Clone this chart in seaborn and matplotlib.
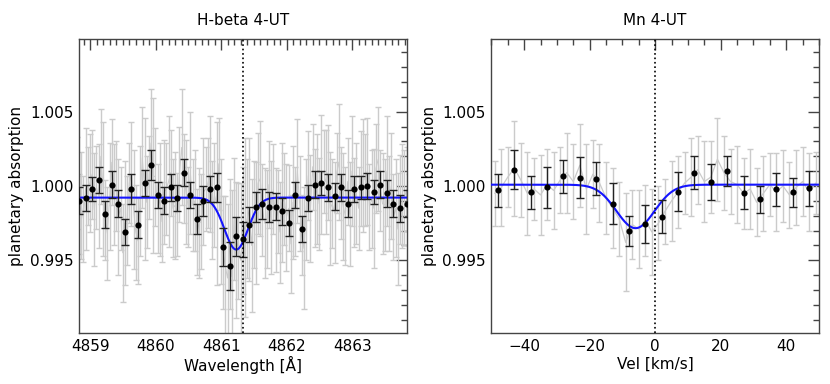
"""
Planetary absorption around H-beta and Mn (4-UT)
"""
import numpy as np
import matplotlib
matplotlib.use("Agg")
import matplotlib.pyplot as plt
import seaborn as sns
from matplotlib.ticker import MultipleLocator, FormatStrFormatter

# ---- H-beta panel: binned points (0.1 A bins) ----
hb_wave = [4858.83, 4858.93, 4859.03, 4859.13, 4859.23, 4859.33, 4859.43, 4859.53, 4859.63, 4859.73,
           4859.83, 4859.93, 4860.03, 4860.13, 4860.23, 4860.33, 4860.43, 4860.53, 4860.63, 4860.73,
           4860.83, 4860.93, 4861.03, 4861.13, 4861.23, 4861.33, 4861.43, 4861.53, 4861.63, 4861.73,
           4861.83, 4861.93, 4862.03, 4862.13, 4862.23, 4862.33, 4862.43, 4862.53, 4862.63, 4862.73,
           4862.83, 4862.93, 4863.03, 4863.13, 4863.23, 4863.33, 4863.43, 4863.53, 4863.63, 4863.73,
           4863.83]
hb_flux = [0.9990, 0.9992, 0.9998, 1.0004, 0.9981, 1.0001, 0.9988, 0.9969, 0.9998, 0.9974,
           1.0002, 1.0014, 0.9994, 0.9990, 0.9999, 0.9992, 1.0009, 0.9994, 0.9978, 0.9990,
           0.9998, 0.9999, 0.9959, 0.9946, 0.9966, 0.9964, 0.9974, 0.9986, 0.9988, 0.9986,
           0.9986, 0.9983, 0.9975, 0.9994, 0.9971, 0.9992, 1.0001, 1.0002, 0.9999, 0.9993,
           0.9999, 0.9988, 0.9998, 0.9999, 1.0000, 0.9996, 1.0001, 0.9995, 0.9988, 0.9985,
           0.9988]
hb_err = [0.0009, 0.0009, 0.0008, 0.0009, 0.0009, 0.0009, 0.0009, 0.0009, 0.0010, 0.0009,
          0.0009, 0.0010, 0.0009, 0.0009, 0.0009, 0.0009, 0.0009, 0.0009, 0.0010, 0.0010,
          0.0009, 0.0010, 0.0013, 0.0016, 0.0013, 0.0012, 0.0012, 0.0010, 0.0010, 0.0010,
          0.0009, 0.0009, 0.0009, 0.0009, 0.0009, 0.0009, 0.0009, 0.0008, 0.0009, 0.0009,
          0.0009, 0.0009, 0.0009, 0.0008, 0.0009, 0.0008, 0.0009, 0.0009, 0.0009, 0.0009,
          0.0009]

# unbinned pixels, three per bin
hb_pix_flux = [1.0002, 0.9981, 0.9987, 0.9978, 0.9998, 1.0000, 1.0002, 1.0008, 0.9984,
               0.9999, 0.9993, 1.0020, 0.9998, 0.9977, 0.9968, 0.9993, 1.0016, 0.9994,
               1.0000, 0.9979, 0.9985, 0.9955, 0.9975, 0.9977, 1.0002, 1.0008, 0.9984,
               0.9969, 0.9963, 0.9990, 1.0019, 0.9998, 0.9989, 1.0006, 1.0029, 1.0007,
               1.0006, 0.9985, 0.9991, 0.9976, 0.9996, 0.9998, 1.0003, 1.0009, 0.9985,
               0.9987, 0.9981, 1.0008, 1.0026, 1.0005, 0.9996, 0.9986, 1.0009, 0.9987,
               0.9990, 0.9969, 0.9975, 0.9976, 0.9996, 0.9998, 1.0002, 1.0008, 0.9984,
               0.9994, 0.9988, 1.0015, 0.9976, 0.9955, 0.9946, 0.9938, 0.9961, 0.9939,
               0.9978, 0.9957, 0.9963, 0.9950, 0.9970, 0.9972, 0.9978, 0.9984, 0.9960,
               0.9981, 0.9975, 1.0002, 1.0005, 0.9984, 0.9975, 0.9978, 1.0001, 0.9979,
               0.9998, 0.9977, 0.9983, 0.9969, 0.9989, 0.9991, 0.9979, 0.9985, 0.9961,
               0.9989, 0.9983, 1.0010, 0.9988, 0.9967, 0.9958, 0.9984, 1.0007, 0.9985,
               1.0013, 0.9992, 0.9998, 0.9988, 1.0008, 1.0010, 1.0003, 1.0009, 0.9985,
               0.9988, 0.9982, 1.0009, 1.0016, 0.9995, 0.9986, 0.9980, 1.0003, 0.9981,
               1.0010, 0.9989, 0.9995, 0.9985, 1.0005, 1.0007, 1.0004, 1.0010, 0.9986,
               0.9991, 0.9985, 1.0012, 1.0018, 0.9997, 0.9988, 0.9987, 1.0010, 0.9988,
               1.0000, 0.9979, 0.9985, 0.9971, 0.9991, 0.9993, 0.9992, 0.9998, 0.9974]
hb_pix_err = [0.0031, 0.0027, 0.0036, 0.0029, 0.0041, 0.0026, 0.0033, 0.0030, 0.0038,
              0.0028, 0.0035, 0.0032, 0.0045, 0.0027, 0.0031, 0.0036, 0.0029, 0.0034,
              0.0030, 0.0039, 0.0028, 0.0033, 0.0042, 0.0030, 0.0027, 0.0035, 0.0040,
              0.0032, 0.0029, 0.0037, 0.0034, 0.0048, 0.0031, 0.0028, 0.0036, 0.0052,
              0.0033, 0.0030, 0.0038, 0.0027, 0.0035, 0.0031, 0.0044, 0.0029, 0.0033,
              0.0036, 0.0028, 0.0032, 0.0039, 0.0030, 0.0035, 0.0027, 0.0041, 0.0031,
              0.0034, 0.0029, 0.0037, 0.0032, 0.0036, 0.0028, 0.0030, 0.0039, 0.0033,
              0.0035, 0.0055, 0.0031, 0.0042, 0.0038, 0.0047, 0.0050, 0.0044, 0.0058,
              0.0041, 0.0046, 0.0039, 0.0052, 0.0043, 0.0060, 0.0040, 0.0048, 0.0045,
              0.0036, 0.0041, 0.0034, 0.0039, 0.0031, 0.0037, 0.0033, 0.0029, 0.0038,
              0.0030, 0.0035, 0.0028, 0.0034, 0.0040, 0.0031, 0.0036, 0.0029, 0.0033,
              0.0038, 0.0030, 0.0035, 0.0032, 0.0027, 0.0041, 0.0034, 0.0030, 0.0036,
              0.0029, 0.0033, 0.0037, 0.0031, 0.0040, 0.0028, 0.0035, 0.0032, 0.0038,
              0.0030, 0.0034, 0.0027, 0.0039, 0.0031, 0.0036, 0.0033, 0.0029, 0.0035,
              0.0037, 0.0030, 0.0034, 0.0028, 0.0032, 0.0038, 0.0031, 0.0036, 0.0029,
              0.0033, 0.0040, 0.0030, 0.0035, 0.0027, 0.0034, 0.0031, 0.0037, 0.0032,
              0.0036, 0.0029, 0.0033, 0.0038, 0.0030, 0.0035, 0.0032, 0.0028, 0.0034]

# gaussian fit, H-beta
HB_CONT, HB_DEPTH, HB_CENTER, HB_SIGMA = 0.99922, 0.00350, 4861.23, 0.18
HB_REST = 4861.33

# ---- Mn panel: binned points (5 km/s bins) ----
mn_vel = [-48, -43, -38, -33, -28, -23, -18, -13, -8, -3,
          2, 7, 12, 17, 22, 27, 32, 37, 42, 47]
mn_flux = [0.99971, 1.00110, 0.99957, 0.99991, 1.00065, 1.00056, 1.00050, 0.99881, 0.99698, 0.99745,
           0.99793, 0.99962, 1.00090, 1.00025, 1.00101, 0.99955, 0.99910, 0.99977, 0.99957, 0.99984]
mn_err = [0.0011, 0.0013, 0.0011, 0.0014, 0.0011, 0.0014, 0.0011, 0.0014, 0.0010, 0.0013,
          0.0011, 0.0013, 0.0011, 0.0012, 0.0010, 0.0011, 0.0009, 0.0011, 0.0010, 0.0012]

mn_pix_vel = [-49, -47, -45, -43, -41, -39, -37, -35, -33, -31,
              -29, -27, -25, -23, -21, -19, -17, -15, -13, -11,
              -9, -7, -5, -3, -1, 1, 3, 5, 7, 9,
              11, 13, 15, 17, 19, 21, 23, 25, 27, 29,
              31, 33, 35, 37, 39, 41, 43, 45, 47, 49]
mn_pix_flux = [0.9995, 0.9999, 1.0006, 1.0012, 1.0004, 0.9995, 0.9998, 0.9994, 1.0001, 0.9997,
               1.0004, 1.0009, 1.0003, 1.0014, 0.9998, 1.0008, 1.0002, 0.9992, 0.9985, 0.9978,
               0.9962, 0.9974, 0.9971, 0.9977, 0.9969, 0.9975, 0.9983, 0.9990, 0.9996, 1.0002,
               1.0006, 1.0011, 1.0003, 1.0006, 1.0018, 1.0009, 1.0003, 1.0001, 0.9995, 0.9998,
               0.9989, 0.9995, 1.0001, 0.9996, 1.0000, 0.9994, 0.9999, 1.0003, 0.9996, 1.0002]
mn_pix_err = [0.0022, 0.0026, 0.0020, 0.0032, 0.0025, 0.0028, 0.0021, 0.0027, 0.0024, 0.0026,
              0.0022, 0.0027, 0.0025, 0.0028, 0.0030, 0.0023, 0.0026, 0.0024, 0.0027, 0.0025,
              0.0033, 0.0023, 0.0026, 0.0024, 0.0029, 0.0025, 0.0022, 0.0027, 0.0024, 0.0021,
              0.0026, 0.0023, 0.0027, 0.0024, 0.0028, 0.0025, 0.0022, 0.0026, 0.0024, 0.0027,
              0.0023, 0.0025, 0.0021, 0.0026, 0.0024, 0.0022, 0.0025, 0.0023, 0.0026, 0.0021]

MN_CONT, MN_DEPTH, MN_CENTER, MN_SIGMA = 1.00009, 0.00293, -6.0, 5.8

GRAY = "#cbcbcb"
BLUE = "#1414ff"

sns.set_style("white")
plt.rcParams.update({
    "font.size": 11,
    "text.color": "black",
    "axes.labelcolor": "black",
    "axes.titlecolor": "black",
    "axes.edgecolor": "#444444",
    "axes.linewidth": 1.0,
    "xtick.color": "#444444",
    "ytick.color": "#444444",
    "xtick.labelcolor": "black",
    "ytick.labelcolor": "black",
    "xtick.direction": "in",
    "ytick.direction": "in",
    "xtick.top": True,
    "ytick.right": True,
})


def gauss(x, cont, depth, center, sigma):
    x = np.asarray(x, dtype=float)
    return cont - depth * np.exp(-0.5 * ((x - center) / sigma) ** 2)


def style_axis(ax, xmajor, xminor):
    ax.set_ylim(0.9901, 1.0099)
    ax.yaxis.set_major_locator(MultipleLocator(0.005))
    ax.yaxis.set_minor_locator(MultipleLocator(0.001))
    ax.yaxis.set_major_formatter(FormatStrFormatter("%.3f"))
    ax.xaxis.set_major_locator(MultipleLocator(xmajor))
    ax.xaxis.set_minor_locator(MultipleLocator(xminor))
    ax.tick_params(which="major", length=8, width=1.0, labelsize=11, pad=4)
    ax.tick_params(which="minor", length=4, width=1.0)
    ax.set_ylabel("planetary absorption", fontsize=11)
    for s in ax.spines.values():
        s.set_visible(True)


fig, (ax1, ax2) = plt.subplots(1, 2, figsize=(8.3, 3.84), dpi=100)
fig.subplots_adjust(left=0.0952, right=0.9867, bottom=0.1328, top=0.8984, wspace=0.259)

# left: H-beta
pix_wave = np.repeat(hb_wave, 3) + np.tile([-1 / 30, 0.0, 1 / 30], len(hb_wave))
ax1.errorbar(pix_wave, hb_pix_flux, yerr=hb_pix_err, fmt="none", ecolor=GRAY,
             elinewidth=1.0, capsize=2.5, capthick=1.0, zorder=1)
sns.lineplot(x=pix_wave, y=hb_pix_flux, color=GRAY, lw=0.7, ax=ax1, zorder=2,
             estimator=None, sort=False)
fine = np.linspace(4858.7, 4864.0, 800)
sns.lineplot(x=fine, y=gauss(fine, HB_CONT, HB_DEPTH, HB_CENTER, HB_SIGMA),
             color=BLUE, lw=1.5, ax=ax1, zorder=3, estimator=None)
ax1.errorbar(hb_wave, hb_flux, yerr=hb_err, fmt="none", ecolor="#222222",
             elinewidth=1.0, capsize=3, capthick=1.0, zorder=4)
sns.scatterplot(x=hb_wave, y=hb_flux, color="black", s=20, edgecolor="black",
                linewidth=0, ax=ax1, zorder=5)
ax1.axvline(HB_REST, color="black", ls=":", lw=1.2, zorder=6)
ax1.set_xlim(HB_REST - 2.5, HB_REST + 2.5)
style_axis(ax1, 1, 0.1)
ax1.set_xlabel("Wavelength [Å]", fontsize=11, labelpad=2)
ax1.set_title("H-beta 4-UT", fontsize=11, pad=10)

# right: Mn
ax2.errorbar(mn_pix_vel, mn_pix_flux, yerr=mn_pix_err, fmt="none", ecolor=GRAY,
             elinewidth=1.0, capsize=2.5, capthick=1.0, zorder=1)
sns.lineplot(x=mn_pix_vel, y=mn_pix_flux, color=GRAY, lw=0.9, ax=ax2, zorder=2,
             estimator=None, sort=False)
vfine = np.linspace(-52, 52, 600)
sns.lineplot(x=vfine, y=gauss(vfine, MN_CONT, MN_DEPTH, MN_CENTER, MN_SIGMA),
             color=BLUE, lw=1.5, ax=ax2, zorder=3, estimator=None)
ax2.errorbar(mn_vel, mn_flux, yerr=mn_err, fmt="none", ecolor="#222222",
             elinewidth=1.0, capsize=3, capthick=1.0, zorder=4)
sns.scatterplot(x=mn_vel, y=mn_flux, color="black", s=20, edgecolor="black",
                linewidth=0, ax=ax2, zorder=5)
ax2.axvline(0, color="black", ls=":", lw=1.2, zorder=6)
ax2.set_xlim(-50, 50)
style_axis(ax2, 20, 5)
ax2.set_xlabel("Vel [km/s]", fontsize=11, labelpad=2)
ax2.set_title("Mn 4-UT", fontsize=11, pad=10)

fig.savefig("out.png", dpi=100)
